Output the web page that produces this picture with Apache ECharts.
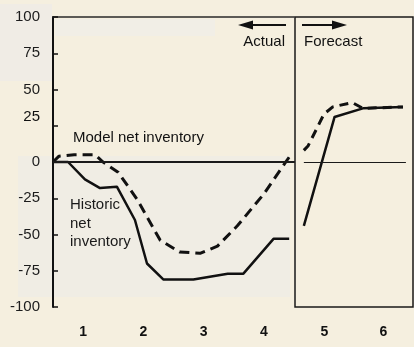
<!DOCTYPE html>
<html>
<head>
<meta charset="utf-8">
<title>Net inventory: actual and forecast</title>
<script src="https://cdn.jsdelivr.net/npm/echarts@6/dist/echarts.min.js"></script>
<style>
  html, body { margin: 0; padding: 0; background: #f5efdf; }
  #chart { width: 414px; height: 347px; }
</style>
</head>
<body>
<div id="chart"></div>
<script>
// Period labels for the two panels
const actualPeriods = ['1', '2', '3', '4'];
const forecastPeriods = ['5', '6'];

// Historic net inventory (solid), actual panel
const historicX = [0.5, 0.75, 1.03, 1.28, 1.56, 1.86, 2.06, 2.33, 2.83, 3.4, 3.66, 4.16, 4.42];
const historicY = [0, 0, -12, -18, -17, -40, -70, -81, -81, -77, -77, -53, -53];

// Model net inventory (dashed), actual panel
const modelX = [0.5, 0.6, 0.85, 1.2, 1.33, 1.58, 1.9, 2.28, 2.6, 2.94, 3.23, 3.56, 4.0, 4.43];
const modelY = [0, 4, 5, 5, 0, -7, -26, -54, -62, -63, -58, -44, -22, 4];

// Forecast panel: historic-style (solid) and model (dashed)
const forecastSolidX = [4.65, 5.17, 5.65, 6.33];
const forecastSolidY = [-44, 31, 37, 38];
const forecastDashX = [4.65, 4.72, 4.88, 4.99, 5.14, 5.47, 5.65, 6.33];
const forecastDashY = [8, 11, 24, 33, 38, 41, 37, 38];

const zip = (xs, ys) => xs.map((x, i) => [x, ys[i]]);

const FONT = '"Liberation Sans", Arial, Helvetica, sans-serif';
const INK = '#111';

const chart = echarts.init(document.getElementById('chart'), null, { renderer: 'canvas' });

const noAxis = { show: false };

chart.setOption({
  backgroundColor: '#f5efdf',
  animation: false,
  grid: [
    { left: 53, top: 17, width: 241, height: 290 },
    { left: 295, top: 17, width: 118, height: 290, show: true, borderColor: '#1a1a1a', borderWidth: 1.5, backgroundColor: 'transparent' }
  ],
  xAxis: [
    {
      type: 'category', gridIndex: 0, data: actualPeriods, position: 'bottom',
      axisLine: { lineStyle: { color: INK, width: 2 } },
      axisTick: { inside: true, length: 5, lineStyle: { color: INK, width: 1.5 } },
      axisLabel: { margin: 18, color: INK, fontFamily: FONT, fontSize: 14, fontWeight: 'bold' },
      splitLine: { show: false }
    },
    { type: 'value', gridIndex: 0, min: 0.5, max: 4.5, ...noAxis },
    {
      type: 'category', gridIndex: 0, data: actualPeriods, position: 'top',
      axisLine: { lineStyle: { color: '#2a2a2a', width: 1.5 } },
      axisTick: { show: false }, axisLabel: { show: false }, splitLine: { show: false }
    },
    {
      type: 'category', gridIndex: 1, data: forecastPeriods, position: 'bottom',
      axisLine: { show: false }, axisTick: { show: false },
      axisLabel: { margin: 18, color: INK, fontFamily: FONT, fontSize: 14, fontWeight: 'bold' },
      splitLine: { show: false }
    },
    { type: 'value', gridIndex: 1, min: 4.5, max: 6.5, ...noAxis }
  ],
  yAxis: [
    {
      type: 'value', gridIndex: 0, min: -100, max: 100, interval: 25,
      axisLine: { show: true, lineStyle: { color: INK, width: 2 } },
      axisTick: { show: true, inside: true, length: 5, lineStyle: { color: INK, width: 1.5 } },
      splitLine: { show: false },
      axisLabel: {
        margin: 13, color: '#1c1c1c', fontFamily: FONT, fontSize: 15,
        formatter: v => (v === 25 ? '{raised|25}' : String(v)),
        rich: { raised: { fontFamily: FONT, fontSize: 15, color: '#111', padding: [0, 0, 18, 0] } }
      }
    },
    { type: 'value', gridIndex: 1, min: -100, max: 100, ...noAxis }
  ],
  graphic: {
    elements: [
      // faint tonal patches of the printed page
      { type: 'rect', z: -1, shape: { x: 18, y: 156, width: 272, height: 141 }, style: { fill: '#f0ede4' } },
      { type: 'rect', z: -1, shape: { x: 0, y: 4, width: 52, height: 77 }, style: { fill: '#f0ece5' } },
      { type: 'rect', z: -1, shape: { x: 55, y: 19, width: 160, height: 17 }, style: { fill: '#f1eee6' } },

      { type: 'text', x: 73, y: 138, style: { text: 'Model net inventory', fill: INK, font: '15px ' + FONT, textVerticalAlign: 'middle' } },
      { type: 'text', x: 70, y: 196, style: { text: 'Historic\nnet\ninventory', fill: '#1a1a1a', font: '15px ' + FONT, lineHeight: 18.5, textVerticalAlign: 'top' } },
      { type: 'text', x: 285, y: 42, style: { text: 'Actual', fill: INK, font: '15px ' + FONT, textAlign: 'right', textVerticalAlign: 'middle' } },
      { type: 'text', x: 304, y: 42, style: { text: 'Forecast', fill: INK, font: '15px ' + FONT, textAlign: 'left', textVerticalAlign: 'middle' } },

      // direction arrows
      { type: 'line', shape: { x1: 286, y1: 25, x2: 248, y2: 25 }, style: { stroke: INK, lineWidth: 2 } },
      { type: 'polygon', shape: { points: [[238, 25], [253, 20.5], [253, 29.5]] }, style: { fill: INK } },
      { type: 'line', shape: { x1: 302, y1: 25, x2: 336, y2: 25 }, style: { stroke: INK, lineWidth: 2 } },
      { type: 'polygon', shape: { points: [[347, 25], [332, 20.5], [332, 29.5]] }, style: { fill: INK } }
    ]
  },
  series: [
    {
      name: 'Historic net inventory', type: 'line', xAxisIndex: 1, yAxisIndex: 0,
      data: zip(historicX, historicY), showSymbol: false, symbol: 'none',
      lineStyle: { color: INK, width: 2.5, join: 'round' },
      markLine: {
        silent: true, symbol: 'none', label: { show: false },
        lineStyle: { color: '#1a1a1a', width: 1.8, type: 'solid' },
        data: [{ yAxis: 0 }]
      }
    },
    {
      name: 'Model net inventory', type: 'line', xAxisIndex: 1, yAxisIndex: 0,
      data: zip(modelX, modelY), showSymbol: false, symbol: 'none',
      lineStyle: { color: INK, width: 3, type: [10, 6] }
    },
    {
      name: 'Forecast historic', type: 'line', xAxisIndex: 4, yAxisIndex: 1,
      data: zip(forecastSolidX, forecastSolidY), showSymbol: false, symbol: 'none',
      lineStyle: { color: INK, width: 2.5, join: 'round' },
      markLine: {
        silent: true, symbol: 'none', label: { show: false },
        lineStyle: { color: '#1a1a1a', width: 1, type: 'solid' },
        data: [[
          { coord: [Math.min(...forecastSolidX), 0] },
          { coord: [Math.max(...forecastSolidX) + 0.05, 0] }
        ]]
      }
    },
    {
      name: 'Forecast model', type: 'line', xAxisIndex: 4, yAxisIndex: 1,
      data: zip(forecastDashX, forecastDashY), showSymbol: false, symbol: 'none',
      lineStyle: { color: INK, width: 3, type: [9, 6] }
    }
  ]
});
</script>
</body>
</html>
